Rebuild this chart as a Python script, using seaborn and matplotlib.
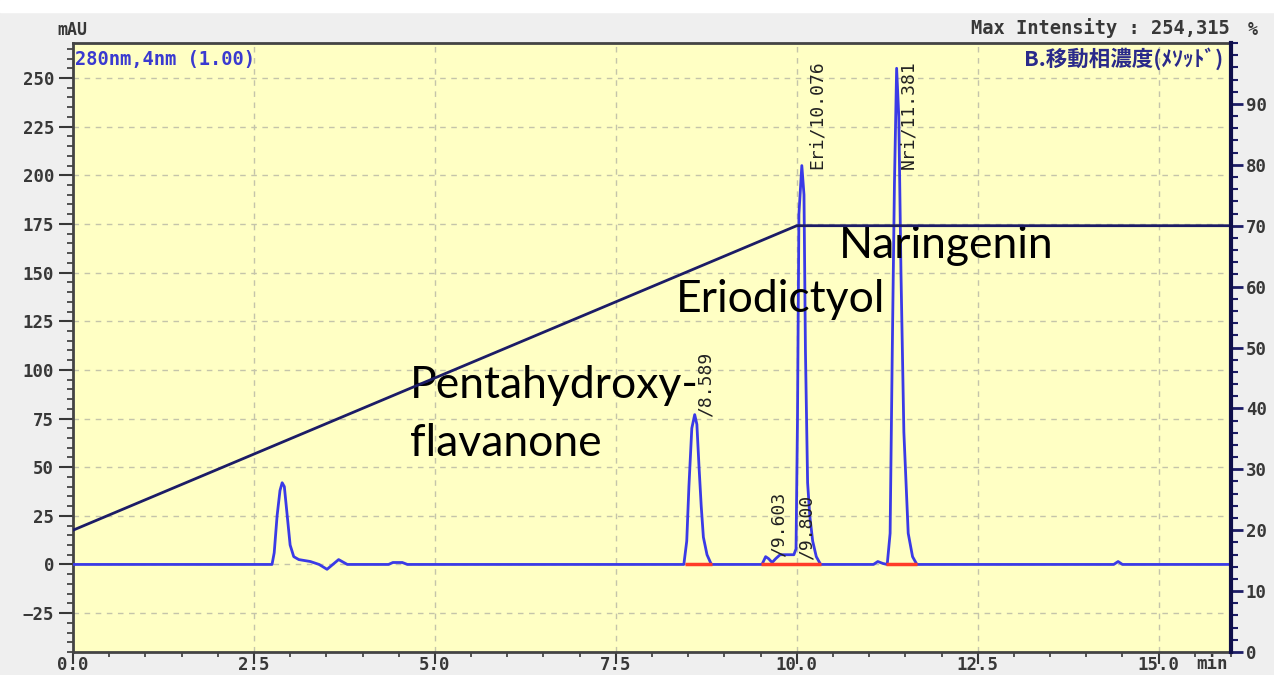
import numpy as np
import pandas as pd
import matplotlib
matplotlib.use("Agg")
import matplotlib.pyplot as plt
from matplotlib.ticker import MultipleLocator, FormatStrFormatter
import seaborn as sns

###############################################################
# chromatogram trace (min, mAU)
time_min = [0.00, 2.75, 2.78, 2.82, 2.86, 2.89, 2.92, 2.96, 3.00, 3.05,
            3.12, 3.28, 3.40, 3.51, 3.59, 3.67, 3.79, 4.36, 4.42, 4.55,
            4.62, 8.44, 8.48, 8.51, 8.55, 8.59, 8.62, 8.65, 8.68, 8.71,
            8.76, 8.82, 9.52, 9.57, 9.61, 9.66, 9.71, 9.77, 9.86, 9.96,
            9.99, 10.01, 10.03, 10.07, 10.10, 10.12, 10.15, 10.18, 10.22, 10.27,
            10.33, 11.06, 11.12, 11.19, 11.25, 11.29, 11.32, 11.35, 11.38, 11.41,
            11.44, 11.48, 11.54, 11.60, 11.66, 14.38, 14.44, 14.50, 16.00]
signal_mau = [0, 0, 6, 25, 38, 42, 40, 25, 10, 4,
              2.5, 1.5, 0, -2.5, 0, 2.5, 0, 0, 1, 1,
              0, 0, 12, 40, 70, 77, 72, 50, 30, 14,
              5, 0, 0, 4, 3, 1, 3, 5, 5, 5,
              8, 74, 180, 205, 190, 110, 42, 25, 12, 4,
              0, 0, 1.5, 0.5, 0, 16, 110, 196, 255, 230,
              150, 68, 16, 4, 0, 0, 1.5, 0, 0]

# pump gradient, B conc (%)
grad_time = [0.0, 10.0, 16.0]
grad_conc = [20, 70, 70]

# integrated peaks and their printed labels
peak_rt = [8.589, 9.603, 9.800, 10.076, 11.381]
peak_names = ["", "", "", "Eri", "Nri"]
label_time = [8.74, 9.75, 10.13, 10.28, 11.54]
label_base = [76, 4, 2.5, 203, 203]
base_start = [8.46, 9.50, 11.24]
base_end = [8.83, 10.33, 11.66]

compound_names = ["Pentahydroxy-", "flavanone", "Eriodictyol", "Naringenin"]
compound_time = [4.66, 4.66, 8.33, 10.58]
compound_mau = [92, 62, 136, 164]

x_ticks = np.arange(0, 15.1, 2.5)
y_ticks = np.arange(-25, 251, 25)
conc_ticks = np.arange(0, 91, 10)

###############################################################
sns.set_style("ticks")
mono = "DejaVu Sans Mono"
grey_txt = "#383838"
navy = "#1c1c66"

fig = plt.figure(figsize=(12.74, 6.75), dpi=100, facecolor="#efefef")
ax = fig.add_axes([73 / 1274, 1 - 652 / 675, (1231 - 73) / 1274, (652 - 43) / 675])
ax.set_facecolor("#ffffc4")
fig.patches.append(plt.Rectangle((0, 1 - 12 / 675), 1, 12 / 675, transform=fig.transFigure,
                                 color="white", zorder=0))

df = pd.DataFrame({"time": time_min, "mAU": signal_mau})
sns.lineplot(data=df, x="time", y="mAU", ax=ax, sort=False, estimator=None,
             color="#3a3ae6", linewidth=2, zorder=3)
ax.hlines([0] * len(base_start), base_start, base_end, color="#ff3c28", linewidth=2.5, zorder=4)

for rt, name, lt, lb in zip(peak_rt, peak_names, label_time, label_base):
    ax.text(lt, lb, f"{name}/{rt:.3f}", rotation=90, ha="center", va="bottom",
            family=mono, fontsize=13, color="#222222", zorder=5)

for name, t, v in zip(compound_names, compound_time, compound_mau):
    ax.text(t, v, name, ha="left", va="center", family="Lato", fontsize=32,
            color="black", zorder=6)

ax.set_xlim(0, 16.0)
ax.set_ylim(-45, 268)
ax.set_xticks(x_ticks)
ax.set_yticks(y_ticks)
ax.xaxis.set_major_formatter(FormatStrFormatter("%.1f"))
ax.xaxis.set_minor_locator(MultipleLocator(0.5))
ax.yaxis.set_minor_locator(MultipleLocator(5))
ax.grid(True, which="major", linestyle=(0, (4, 4)), color="#c4c4aa", linewidth=1)
ax.set_xlabel("")
ax.set_ylabel("")
ax.tick_params(axis="y", which="major", length=10, width=1.5, pad=3.6, colors=grey_txt)
ax.tick_params(axis="y", which="minor", length=4.3, width=1.2, colors=grey_txt)
ax.tick_params(axis="x", which="major", length=8.6, width=1.5, pad=-5.5, colors=grey_txt)
ax.tick_params(axis="x", which="minor", length=3.6, width=1.2, colors=grey_txt)
for lab in ax.get_xticklabels() + ax.get_yticklabels():
    lab.set_family(mono)
    lab.set_fontweight("bold")
    lab.set_fontsize(12.5)
for side in ["left", "bottom", "top"]:
    ax.spines[side].set_color("#444444")
    ax.spines[side].set_linewidth(2)
ax.spines["right"].set_visible(False)

###############################################################
# gradient on the right axis
ax2 = ax.twinx()
sns.lineplot(x=grad_time, y=grad_conc, ax=ax2, color=navy, linewidth=2, estimator=None)
ax2.set_ylim(0, 100)
ax2.set_yticks(conc_ticks)
ax2.yaxis.set_minor_locator(MultipleLocator(2))
ax2.set_ylabel("")
ax2.tick_params(axis="y", which="major", length=8.6, width=2, pad=2, colors=navy)
ax2.tick_params(axis="y", which="minor", length=5, width=1.5, colors=navy)
for lab in ax2.get_yticklabels():
    lab.set_family(mono)
    lab.set_fontweight("bold")
    lab.set_fontsize(12.5)
    lab.set_color(grey_txt)
for side in ["left", "bottom", "top"]:
    ax2.spines[side].set_visible(False)
ax2.spines["right"].set_color("#0e0e4a")
ax2.spines["right"].set_linewidth(3)

###############################################################
# header texts
fig.text(57 / 1274, 1 - 30 / 675, "mAU", ha="left", va="center", family=mono,
         fontweight="bold", fontsize=12, color=grey_txt)
fig.text(1230 / 1274, 1 - 28 / 675, "Max Intensity : 254,315", ha="right", va="center",
         family=mono, fontweight="bold", fontsize=13.5, color=grey_txt)
fig.text(1253 / 1274, 1 - 30 / 675, "%", ha="center", va="center", family=mono,
         fontweight="bold", fontsize=12, color=grey_txt)
fig.text(1228 / 1274, 1 - 664 / 675, "min", ha="right", va="center", family=mono,
         fontweight="bold", fontsize=12.5, color=grey_txt)
ax.text(0.002, 0.988, "280nm,4nm (1.00)", transform=ax.transAxes, ha="left", va="top",
        family=mono, fontweight="bold", fontsize=13.5, color="#3a3ad0", zorder=7)
ax.text(0.993, 0.993, "B.移動相濃度(ﾒｿｯﾄﾞ)", transform=ax.transAxes, ha="right", va="top",
        family=["Noto Sans CJK JP", "DejaVu Sans"], fontweight="bold", fontsize=15.5,
        color="#2a2a8a", zorder=7)

fig.savefig("out.png", dpi=100, facecolor=fig.get_facecolor())
